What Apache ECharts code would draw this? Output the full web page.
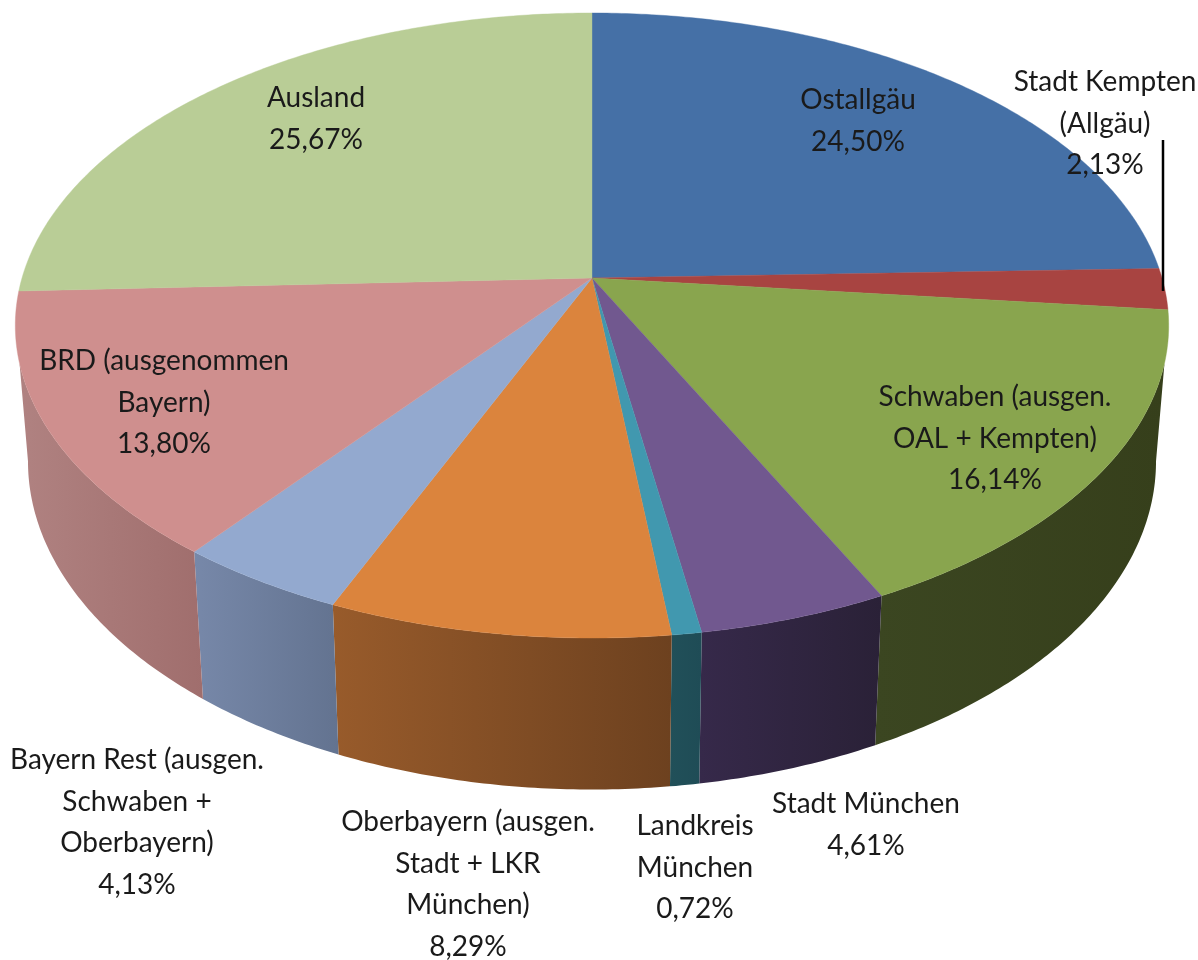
<!DOCTYPE html>
<html>
<head>
<meta charset="utf-8">
<style>
  html, body { margin: 0; padding: 0; background: #fff; }
  #main { width: 1198px; height: 960px; }
</style>
<script src="https://cdn.jsdelivr.net/npm/echarts@6/dist/echarts.min.js"></script>
</head>
<body>
<div id="main"></div>
<script>
var categories = [
  "Ostallgäu", "Stadt Kempten\n(Allgäu)", "Schwaben (ausgen.\nOAL + Kempten)",
  "Stadt München", "Landkreis\nMünchen", "Oberbayern (ausgen.\nStadt + LKR\nMünchen)",
  "Bayern Rest (ausgen.\nSchwaben +\nOberbayern)", "BRD (ausgenommen\nBayern)", "Ausland"
];
var values = [24.5, 2.13, 16.14, 4.61, 0.72, 8.29, 4.13, 13.8, 25.67];

var topColors = ["#4570A6", "#A84441", "#89A54E", "#71588F", "#4198AF", "#DB843D", "#93A9CF", "#CF8F8E", "#B9CD96"];
var wallLeft = ["#3A5A85", "#863735", "#3B4621", "#36294A", "#215059", "#985B2B", "#7788A9", "#B08281", "#95A578"];
var wallRight = ["#2F4A6E", "#6E2D2B", "#363F1B", "#2A2137", "#1F4C56", "#6D411F", "#637390", "#A06E6D", "#7A8762"];

// label centre (x, y of first line), by category
var labelX = [858, 1105, 995, 866, 695, 468, 137, 164, 316];
var labelY = [100, 82, 397, 804, 826, 822, 760, 361, 98];
var lineHeight = 41.5;

// projection of the tilted pie
var cx = 592, cy = 278, radiusX = 570, radiusY = 305.3, persp = 0.152;
var floorScaleX = 0.978, floorScaleY = 0.05, floorDrop = 133.5;
// where the side wall leaves the rim and meets the floor (depth of the point, -1 back .. 1 front)
var rimStart = 0.26, floorStart = 0.15;

var total = values.reduce(function (a, b) { return a + b; }, 0);

function angleAt(i) {
  var sum = 0;
  for (var k = 0; k < i; k++) sum += values[k];
  return (sum / total) * Math.PI * 2;
}

function project(angle) {
  var u = Math.sin(angle), v = -Math.cos(angle);
  var d = 1 - persp * v;
  return [cx + (radiusX * u) / d, cy + (radiusY * v) / d];
}

function floorPoint(p) {
  return [cx + (p[0] - cx) * floorScaleX, p[1] + floorDrop + floorScaleY * (p[1] - cy)];
}

// arc of slice i, only the part nearer than minDepth
function arcPoints(i, minDepth) {
  var a0 = angleAt(i), a1 = angleAt(i + 1);
  var steps = Math.max(2, Math.ceil((a1 - a0) / 0.01));
  var pts = [];
  for (var s = 0; s <= steps; s++) {
    var a = a0 + ((a1 - a0) * s) / steps;
    if (-Math.cos(a) >= minDepth) pts.push(project(a));
  }
  return pts;
}

function renderWall(params) {
  var i = params.dataIndex;
  var rim = arcPoints(i, rimStart);
  var floor = arcPoints(i, floorStart).map(floorPoint).reverse();
  if (!rim.length || !floor.length) return null;
  return {
    type: "polygon",
    shape: { points: rim.concat(floor) },
    style: {
      fill: new echarts.graphic.LinearGradient(0, 0, 1, 0, [
        { offset: 0, color: wallLeft[i] },
        { offset: 1, color: wallRight[i] }
      ])
    }
  };
}

function renderTop(params) {
  var i = params.dataIndex;
  return {
    type: "polygon",
    shape: { points: [[cx, cy]].concat(arcPoints(i, -2)) },
    style: { fill: topColors[i], stroke: topColors[i], lineWidth: 0.4 }
  };
}

function percentText(v) {
  return v.toFixed(2).replace(".", ",") + "%";
}

function renderLabel(params, api) {
  var i = params.dataIndex;
  var children = [{
    type: "text",
    style: {
      x: labelX[i],
      y: labelY[i] - lineHeight / 2,
      text: categories[i] + "\n" + percentText(api.value(0)),
      align: "center",
      verticalAlign: "top",
      lineHeight: lineHeight,
      fill: "#1a1a1a",
      font: '28px Lato, "Open Sans", sans-serif'
    }
  }];
  // leader line for the thin Kempten slice
  if (i === 1) {
    var rim = project((angleAt(1) + angleAt(2)) / 2);
    children.push({
      type: "line",
      shape: { x1: 1163, y1: 140, x2: 1163, y2: rim[1] + 2 },
      style: { stroke: "#000", lineWidth: 2.5 }
    });
  }
  return { type: "group", children: children };
}

var chart = echarts.init(document.getElementById("main"), null, { renderer: "canvas" });
chart.setOption({
  backgroundColor: "#fff",
  animation: false,
  series: [
    { type: "custom", coordinateSystem: "none", data: values, renderItem: renderWall, silent: true, z: 1 },
    { type: "custom", coordinateSystem: "none", data: values, renderItem: renderTop, silent: true, z: 2 },
    { type: "custom", coordinateSystem: "none", data: values, renderItem: renderLabel, silent: true, z: 3 }
  ]
});
</script>
</body>
</html>
